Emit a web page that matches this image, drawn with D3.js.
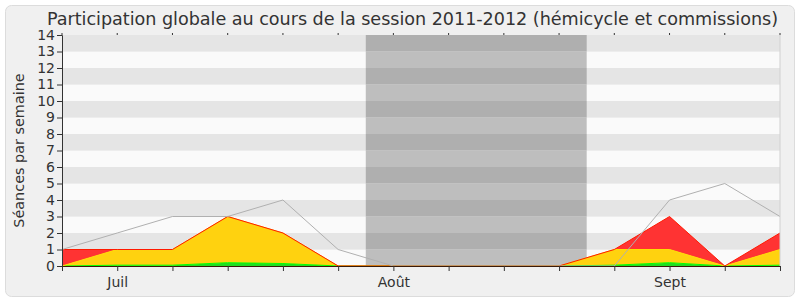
<!DOCTYPE html>
<html>
<head>
<meta charset="utf-8">
<script src="https://cdn.jsdelivr.net/npm/d3@7"></script>
<style>
  body { margin: 0; background: #fff; }
  svg text { font-family: "DejaVu Sans", Verdana, sans-serif; fill: #333; }
</style>
</head>
<body>
<svg id="chart" width="800" height="300"></svg>
<script>
/* participation per week: green at bottom, yellow stacked, red on top */
const weeks = d3.range(14)
const monthLabels = [{ week: 1, label: 'Juil' }, { week: 6, label: 'Août' }, { week: 11, label: 'Sept' }]
const interventions = [0, 0.05, 0.05, 0.2, 0.15, 0, 0, 0, 0, 0, 0.05, 0.2, 0, 0.05]
const hemicycle = [0, 0.95, 0.95, 2.8, 1.85, 0, 0, 0, 0, 0, 0.95, 0.8, 0, 0.95]
const commission = [1, 0, 0, 0, 0, 0, 0, 0, 0, 0, 0, 2, 0, 1]
const median = [1, 2, 3, 3, 4, 1, 0, 0, 0, 0, 0, 4, 5, 3]
const vacation = [5.5, 9.5]
const yTicks = d3.range(0, 15)

const margin = { top: 35, right: 20, bottom: 34, left: 62 }
const width = 800 - margin.left - margin.right
const height = 300 - margin.top - margin.bottom

const svg = d3.select('#chart')

svg.append('rect')
    .attr('x', 5.5).attr('y', 5.5)
    .attr('width', 789).attr('height', 291)
    .attr('rx', 6)
    .attr('fill', '#f0f0f0')
    .attr('stroke', '#dcdcdc')

svg.append('text')
    .attr('x', 412.5).attr('y', 25)
    .attr('text-anchor', 'middle')
    .attr('textLength', 731)
    .style('font-size', '17.6px')
    .text('Participation globale au cours de la session 2011-2012 (hémicycle et commissions)')

svg.append('text')
    .attr('transform', `translate(24,${margin.top + height / 2}) rotate(-90)`)
    .attr('text-anchor', 'middle')
    .style('font-size', '14.4px')
    .text('Séances par semaine')

const g = svg.append('g')
    .attr('transform', `translate(${margin.left},${margin.top})`)

const x = d3.scaleLinear()
    .domain([0, 13])
    .range([0, width])

const y = d3.scaleLinear()
    .domain([0, 14])
    .range([height, 0])

// alternating stripes
g.selectAll('.band')
    .data(d3.range(14))
    .enter()
    .append('rect')
    .attr('x', 0)
    .attr('y', d => y(d + 1))
    .attr('width', width)
    .attr('height', d => y(d) - y(d + 1))
    .attr('fill', d => d % 2 ? '#e5e5e5' : '#fafafa')

// holidays
g.selectAll('.vac')
    .data(d3.range(14))
    .enter()
    .append('rect')
    .attr('x', x(vacation[0]))
    .attr('y', d => y(d + 1))
    .attr('width', x(vacation[1]) - x(vacation[0]))
    .attr('height', d => y(d) - y(d + 1))
    .attr('fill', d => d % 2 ? '#afafaf' : '#bebebe')

const table = weeks.map(i => ({
    week: i,
    interventions: interventions[i],
    hemicycle: hemicycle[i],
    commission: commission[i]
}))

const layers = d3.stack()
    .keys(['interventions', 'hemicycle', 'commission'])
    (table)

const fills = ['#22dd22', '#ffd20f', '#ff3333']
const strokes = ['#00ff00', '#ffe000', '#ff1a00']

const area = d3.area()
    .x(d => x(d.data.week))
    .y0(d => y(d[0]))
    .y1(d => y(d[1]))

const topLine = d3.line()
    .x(d => x(d.data.week))
    .y(d => y(d[1]))

g.selectAll('.layer')
    .data(layers)
    .enter()
    .append('path')
    .attr('d', area)
    .attr('fill', (d, i) => fills[i])

g.selectAll('.layerLine')
    .data(layers)
    .enter()
    .append('path')
    .attr('d', topLine)
    .attr('fill', 'none')
    .attr('stroke', (d, i) => strokes[i])
    .attr('stroke-width', 1)

g.append('path')
    .datum(median)
    .attr('d', d3.line().x((d, i) => x(i)).y(d => y(d)))
    .attr('fill', 'none')
    .attr('stroke', '#b0b0b0')
    .attr('stroke-width', 1)

// axes
const yAxis = d3.axisLeft(y)
    .tickValues(yTicks)
    .tickSize(5)
    .tickPadding(2)

const xAxis = d3.axisBottom(x)
    .tickValues(weeks)
    .tickSize(5)
    .tickFormat(d => {
        const m = monthLabels.find(l => l.week === d)
        return m ? m.label : ''
    })

g.append('g')
    .attr('class', 'axis axis--y')
    .call(yAxis)
    .call(a => a.select('.domain').attr('stroke', '#333'))
    .call(a => a.selectAll('line').attr('stroke', '#333'))
    .call(a => a.selectAll('text').style('font-size', '14px').attr('fill', '#333').attr('font-family', null))

g.append('g')
    .attr('class', 'axis axis--x')
    .attr('transform', `translate(0,${height})`)
    .call(xAxis)
    .call(a => a.select('.domain').attr('stroke', '#3a1a08'))
    .call(a => a.selectAll('line').attr('stroke', '#333'))
    .call(a => a.selectAll('text').style('font-size', '14px').attr('fill', '#333').attr('font-family', null).attr('dy', '0.9em'))

// tiny marks at the top edge
g.selectAll('.topTick')
    .data(weeks)
    .enter()
    .append('line')
    .attr('x1', d => x(d)).attr('x2', d => x(d))
    .attr('y1', -2).attr('y2', 0)
    .attr('stroke', '#333')

g.append('line')
    .attr('x1', width).attr('x2', width)
    .attr('y1', 0).attr('y2', height)
    .attr('stroke', '#d0d0d0')
</script>
</body>
</html>
